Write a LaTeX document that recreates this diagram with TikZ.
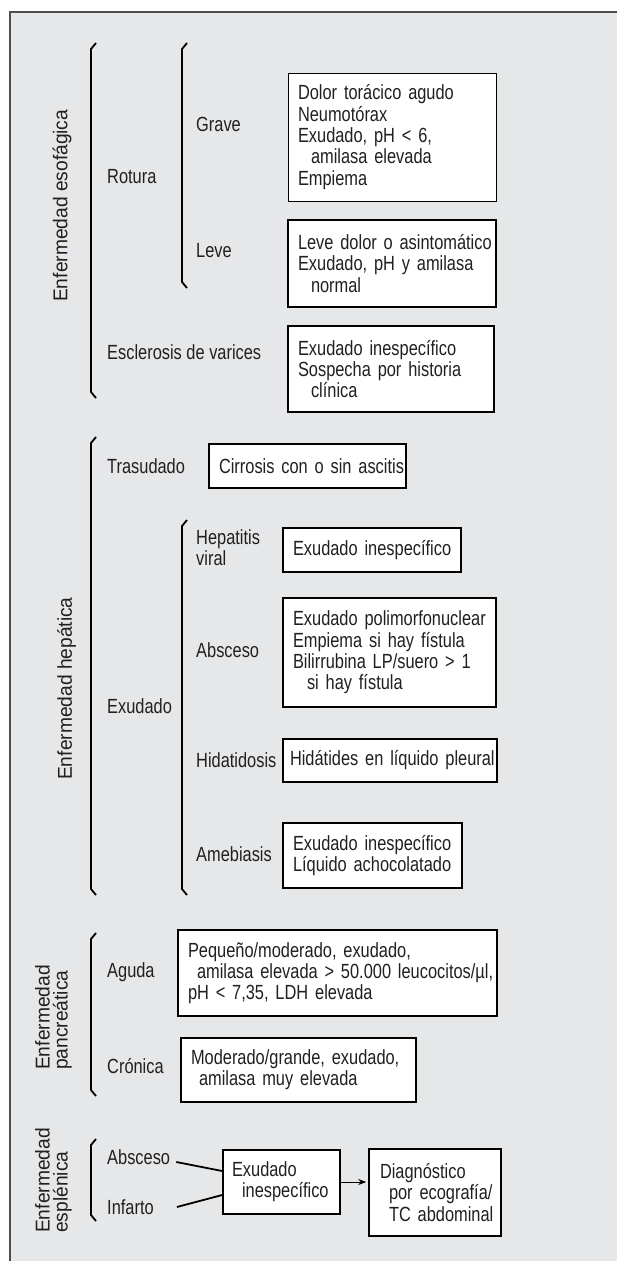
\documentclass[tikz,border=0pt]{standalone}
\usepackage{fontspec}
\usetikzlibrary{arrows.meta}
\newfontfamily\hfont[FakeStretch=0.80]{Liberation Sans}
\newfontfamily\rfont[FakeStretch=0.96]{Liberation Sans}
\definecolor{panel}{HTML}{E6E7E8}
\definecolor{ink}{HTML}{231F20}
\definecolor{framec}{HTML}{4D4D4D}
\begin{document}
\begin{tikzpicture}[x=1bp,y=-1bp,
  hf/.style={font=\hfont\fontsize{20.5bp}{21.3bp}\selectfont},
  lbl/.style={hf, anchor=west, inner sep=0pt, text=ink},
  rlbl/.style={rotate=90, anchor=west, inner sep=0pt, text=ink, align=left,
               font=\rfont\fontsize{20bp}{18bp}\selectfont},
  box/.style={hf, draw=black, fill=white, line width=1.6bp, text=ink, align=left,
              inner xsep=10bp, inner ysep=0pt},
  brk/.style={draw=black, line width=1.8bp, line join=round},
  conn/.style={draw=black, line width=1.8bp},
  arr/.style={draw=black, line width=0.9bp, -{Stealth[length=8bp,width=6bp]}, shorten >=2bp}]
\useasboundingbox (0,0) rectangle (617,1261);
\fill[panel] (10,12) rectangle (617,1261);
\draw[framec, line width=1.5bp] (617,12) -- (10,12) -- (10,1261);

% rotated group labels
\node[rlbl] (tesof) at (62,302) {Enfermedad esofágica};
\node[rlbl] (thep) at (66.5,780) {Enfermedad hepática};
\node[rlbl] (tpanc) at (53.5,1070) {Enfermedad\\pancreática};
\node[rlbl] (tespl) at (53.5,1233) {Enfermedad\\esplénica};

% brackets
\draw[brk] (96,43) -- (91,49) -- (91,392) -- (96,398);
\draw[brk] (187,43) -- (182,49) -- (182,282) -- (187,288);
\draw[brk] (96,437) -- (91,443) -- (91,889) -- (96,895);
\draw[brk] (187,520) -- (182,526) -- (182,889) -- (187,895);
\draw[brk] (96,933) -- (91,939) -- (91,1090) -- (96,1096);
\draw[brk] (96,1139) -- (91,1145) -- (91,1215) -- (96,1221);

% labels
\node[lbl] (rotura) at (107,177) {Rotura};
\node[lbl] (grave) at (196,124) {Grave};
\node[lbl] (leve) at (196,251) {Leve};
\node[lbl] (escl) at (107,352) {Esclerosis de varices};
\node[lbl] (trasu) at (107,466) {Trasudado};
\node[lbl] (exud) at (107,706) {Exudado};
\node[lbl, align=left] (hepv) at (196,547.5) {Hepatitis\\viral};
\node[lbl] (absc) at (196,650) {Absceso};
\node[lbl] (hida) at (196,760) {Hidatidosis};
\node[lbl] (ameb) at (196,854) {Amebiasis};
\node[lbl] (aguda) at (107,972) {Aguda};
\node[lbl] (cron) at (107,1066) {Crónica};
\node[lbl] (sabs) at (107,1157) {Absceso};
\node[lbl] (sinf) at (107,1207) {Infarto};

% boxes
\node[box, line width=1bp, text width=188bp, minimum height=128bp] (bgrave) at (392,137)
  {\mbox{Dolor torácico agudo}\\\mbox{Neumotórax}\\\mbox{Exudado, pH < 6,}\\\mbox{\hspace*{13bp}amilasa elevada}\\\mbox{Empiema}};
\node[box, text width=188bp, minimum height=87bp] (bleve) at (392,263.5)
  {\mbox{Leve dolor o asintomático}\\\mbox{Exudado, pH y amilasa}\\\mbox{\hspace*{13bp}normal}};
\node[box, text width=186bp, minimum height=86bp] (bescl) at (391,369)
  {\mbox{Exudado inespecífico}\\\mbox{Sospecha por historia}\\\mbox{\hspace*{13bp}clínica}};
\node[box, text width=177bp, minimum height=44bp] (bcirr) at (307.5,466)
  {\mbox{Cirrosis con o sin ascitis}};
\node[box, text width=158bp, minimum height=44bp] (bhepv) at (372,550)
  {\mbox{Exudado inespecífico}};
\node[box, text width=193bp, minimum height=109bp] (babsc) at (389.5,652.5)
  {\mbox{Exudado polimorfonuclear}\\\mbox{Empiema si hay fístula}\\\mbox{Bilirrubina LP/suero > 1}\\\mbox{\hspace*{14bp}si hay fístula}};
\node[box, inner xsep=7bp, text width=200bp, minimum height=43bp] (bhida) at (390,760.5)
  {\mbox{Hidátides en líquido pleural}};
\node[box, text width=159bp, minimum height=65bp] (bameb) at (372.5,855.5)
  {\mbox{Exudado inespecífico}\\\mbox{Líquido achocolatado}};
\node[box, text width=299bp, minimum height=86bp] (bagud) at (337.5,973)
  {\mbox{Pequeño/moderado, exudado,}\\\mbox{\hspace*{9bp}amilasa elevada > 50.000 leucocitos/µl,}\\\mbox{pH < 7,35, LDH elevada}};
\node[box, text width=215bp, minimum height=64bp] (bcron) at (298.5,1070)
  {\mbox{Moderado/grande, exudado,}\\\mbox{\hspace*{8bp}amilasa muy elevada}};
\node[box, inner xsep=9bp, text width=99bp, minimum height=64bp] (bexin) at (281.5,1182)
  {\mbox{Exudado}\\\mbox{\hspace*{10bp}inespecífico}};
\node[box, inner xsep=11bp, text width=110bp, minimum height=87bp] (bdiag) at (435,1192.5)
  {\mbox{Diagnóstico}\\\mbox{\hspace*{9bp}por ecografía/}\\\mbox{\hspace*{9bp}TC abdominal}};

% connectors
\draw[conn] ([xshift=6bp,yshift=-5bp]sabs.east) -- ([yshift=11bp]bexin.west);
\draw[conn] ([xshift=23bp]sinf.east) -- ([yshift=-13bp]bexin.west);
\draw[arr] (bexin.east) -- (bexin.east -| bdiag.west);
\end{tikzpicture}
\end{document}
